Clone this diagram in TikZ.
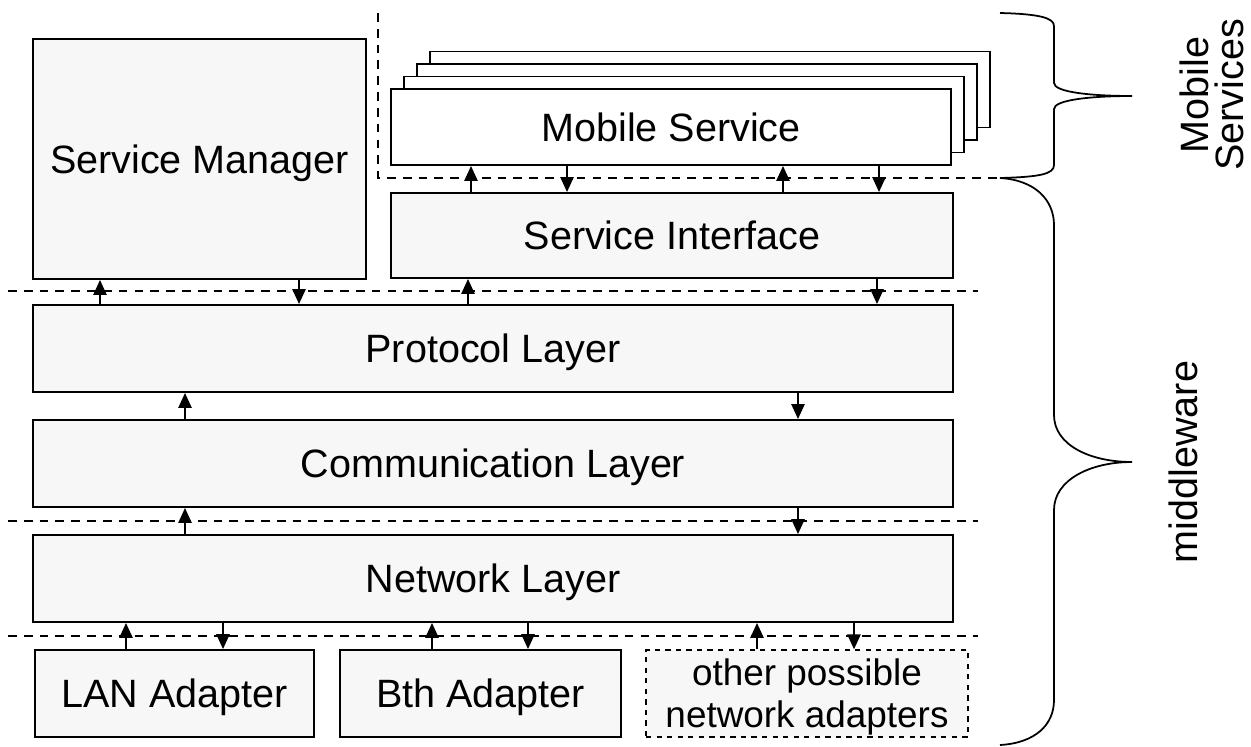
\documentclass[tikz,border=0pt]{standalone}
\usepackage{fontspec}
\setmainfont{Liberation Sans}
\usetikzlibrary{arrows.meta,positioning}

\begin{document}
\begin{tikzpicture}[x=0.02cm,y=-0.02cm,
    every node/.style={font=\fontsize{22.5}{26}\selectfont},
    layer/.style={draw,line width=1.1pt,fill=black!3,inner sep=0pt,text depth=0pt,minimum height=1.74cm},
    service/.style={draw,line width=1.1pt,fill=white,inner sep=0pt,text depth=0pt,minimum width=11.2cm,minimum height=1.52cm},
    sep/.style={line width=0.8pt,dash pattern=on 5pt off 4pt},
    flow/.style={line width=1.1pt,-{Triangle[length=8.5pt,width=7.5pt]}},
    brace/.style={line width=1pt}]
      %\draw[help lines,step=50] (0,0) grid (1251,747);
      \useasboundingbox (0,0) rectangle (1251,747);

      \node[layer,minimum width=6.66cm,minimum height=4.8cm] (sm) at (199.5,159) {Service Manager};

      \foreach \i in {3,2,1}
        \node[service] (ms\i) at (671+13*\i,127-12.5*\i) {};
      \node[service] (ms) at (671,127) {Mobile Service};

      \node[layer,minimum width=11.24cm,minimum height=1.7cm] (si) at (672,235.5) {Service Interface};
      \node[layer,minimum width=18.4cm] (proto) at (493,348.5) {Protocol Layer};
      \node[layer,minimum width=18.4cm] (comm) at (493,463.5) {Communication Layer};
      \node[layer,minimum width=18.4cm] (net) at (493,578.5) {Network Layer};

      \node[layer,minimum width=5.58cm] (lan) at (174.5,693.5) {LAN Adapter};
      \node[layer,minimum width=5.62cm] (bth) at (480.5,693.5) {Bth Adapter};
      \node[layer,dashed,line width=0.8pt,minimum width=6.44cm,align=center,
            font=\fontsize{21}{24}\selectfont] (other) at (807,693.5) {other possible\\network adapters};

      % separators
      \draw[sep] (378,13) -- (378,178) -- (1000,178);
      \draw[sep] (8,291) -- (978,291);
      \draw[sep] (8,521) -- (978,521);
      \draw[sep] (8,636) -- (978,636);

      % calls between the layers
      \foreach \x in {471,783} \draw[flow] (\x,0 |- si.north) -- (\x,0 |- ms.south);
      \foreach \x in {567,879} \draw[flow] (\x,0 |- ms.south) -- (\x,0 |- si.north);

      \draw[flow] (100,0 |- proto.north) -- (100,0 |- sm.south);
      \draw[flow] (299,0 |- sm.south) -- (299,0 |- proto.north);
      \draw[flow] (468,0 |- proto.north) -- (468,0 |- si.south);
      \draw[flow] (877,0 |- si.south) -- (877,0 |- proto.north);

      \draw[flow] (185,0 |- comm.north) -- (185,0 |- proto.south);
      \draw[flow] (798,0 |- proto.south) -- (798,0 |- comm.north);
      \draw[flow] (185,0 |- net.north) -- (185,0 |- comm.south);
      \draw[flow] (798,0 |- comm.south) -- (798,0 |- net.north);

      \draw[flow] (126,0 |- lan.north) -- (126,0 |- net.south);
      \draw[flow] (223,0 |- net.south) -- (223,0 |- lan.north);
      \draw[flow] (432,0 |- bth.north) -- (432,0 |- net.south);
      \draw[flow] (528,0 |- net.south) -- (528,0 |- bth.north);
      \draw[flow] (757,0 |- other.north) -- (757,0 |- net.south);
      \draw[flow] (854,0 |- net.south) -- (854,0 |- other.north);

      % braces
      \draw[brace] (1000,13) .. controls (1040,14) and (1054,18) .. (1054,26) -- (1054,83)
        .. controls (1054,92) and (1090,96) .. (1132,96)
        .. controls (1090,96) and (1054,100) .. (1054,109) -- (1054,165)
        .. controls (1054,174) and (1040,177) .. (1000,178);
      \draw[brace] (1000,178) .. controls (1035,180) and (1054,200) .. (1054,225) -- (1054,415)
        .. controls (1054,445) and (1090,462) .. (1132,462)
        .. controls (1090,462) and (1054,480) .. (1054,510) -- (1054,700)
        .. controls (1054,725) and (1035,743) .. (1000,745);

      \node[rotate=90,align=center,font=\fontsize{22.5}{20}\selectfont] (mslabel) at (1212,95) {Mobile\\Services};
      \node[rotate=90] (mwlabel) at (1183,462) {middleware};
    \end{tikzpicture}
\end{document}
